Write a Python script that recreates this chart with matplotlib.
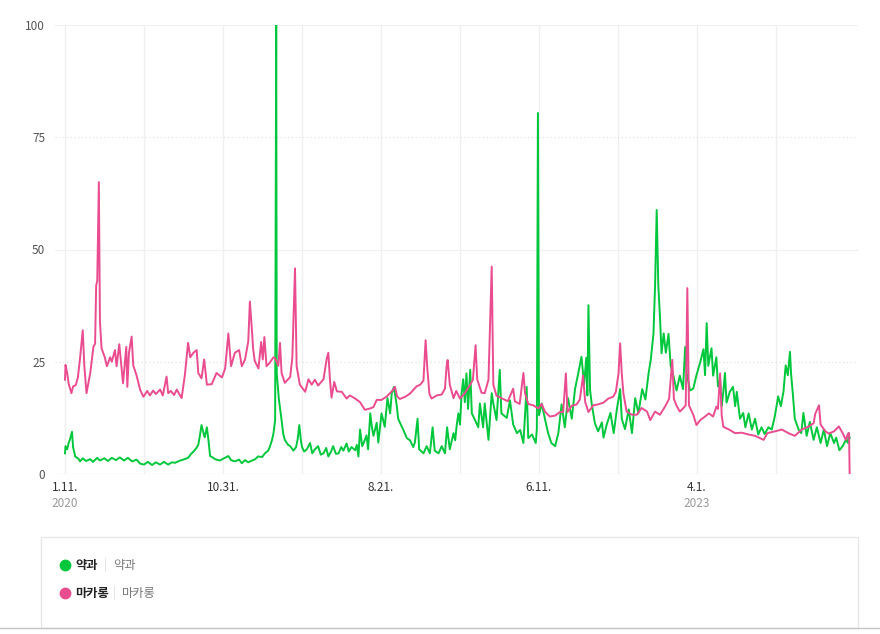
import matplotlib
matplotlib.use("Agg")
import matplotlib.pyplot as plt
import matplotlib.transforms as mtransforms
from matplotlib.patches import Rectangle
from matplotlib.lines import Line2D
import pandas as pd

plt.rcParams['font.family'] = ['Noto Sans CJK KR', 'DejaVu Sans']

start_date = "2020-01-11"
series_names = ["약과", "마카롱"]
series_colors = ["#00c73c", "#ea4c90"]

# 약과 (day offset from start_date, relative search index)
yak_day = [0, 1, 4, 7, 9, 13, 15, 19, 25, 28,
           33, 39, 47, 52, 60, 65, 73, 80, 87, 95,
           102, 110, 117, 125, 133, 140, 147, 154, 162, 169,
           177, 184, 192, 199, 205, 212, 220, 229, 234, 239,
           244, 248, 251, 254, 258, 260, 264, 267, 270, 276,
           279, 288, 296, 304, 309, 316, 324, 329, 335, 341,
           348, 354, 359, 367, 372, 378, 381, 385, 388, 391,
           393, 394, 398, 403, 406, 409, 415, 419, 425, 430,
           433, 436, 439, 441, 445, 450, 456, 460, 465, 471,
           476, 481, 486, 490, 495, 499, 504, 509, 514, 518,
           524, 528, 533, 540, 543, 546, 549, 553, 556, 561,
           564, 568, 571, 574, 580, 583, 589, 595, 600, 605,
           608, 612, 617, 620, 623, 630, 636, 642, 648, 651,
           656, 659, 667, 673, 679, 684, 688, 695, 701, 707,
           711, 716, 723, 726, 729, 732, 735, 738, 741, 744,
           747, 750, 754, 757, 763, 769, 772, 778, 781, 788,
           794, 797, 803, 809, 812, 822, 828, 834, 841, 847,
           853, 859, 862, 869, 876, 878, 880, 882, 887, 893,
           899, 905, 912, 918, 924, 930, 936, 943, 949, 955,
           961, 966, 970, 972, 974, 977, 980, 986, 992, 999,
           1002, 1008, 1015, 1021, 1027, 1033, 1036, 1042, 1049, 1055,
           1061, 1067, 1074, 1080, 1086, 1090, 1095, 1098, 1101, 1104,
           1107, 1110, 1114, 1118, 1123, 1127, 1132, 1138, 1144, 1150,
           1154, 1157, 1163, 1169, 1175, 1182, 1188, 1191, 1194, 1197,
           1203, 1206, 1212, 1215, 1219, 1222, 1225, 1228, 1231, 1237,
           1243, 1247, 1250, 1256, 1262, 1266, 1272, 1278, 1284, 1290,
           1296, 1302, 1309, 1315, 1320, 1324, 1327, 1332, 1337, 1341,
           1345, 1349, 1351, 1354, 1358, 1365, 1370, 1374, 1380, 1386,
           1393, 1399, 1406, 1412, 1418, 1424, 1431, 1435, 1441, 1447,
           1453, 1457, 1458, 1460]
yak_val = [4.6, 6.2, 5.5, 7.0, 7.6, 9.4, 6.0, 3.9, 3.4, 2.8,
           3.5, 2.9, 3.3, 2.7, 3.6, 3.0, 3.5, 2.9, 3.6, 3.1,
           3.7, 3.0, 3.6, 2.8, 3.2, 2.3, 2.1, 2.7, 2.0, 2.6,
           2.1, 2.7, 2.1, 2.6, 2.5, 2.9, 3.2, 3.6, 4.4, 5.0,
           5.7, 6.5, 8.5, 10.9, 9.0, 8.2, 10.4, 7.5, 4.0, 3.6,
           3.3, 3.0, 3.5, 4.0, 3.1, 2.8, 3.2, 2.4, 3.1, 2.6,
           3.0, 3.3, 3.9, 3.8, 4.6, 5.2, 6.0, 7.5, 9.1, 12.0,
           100.0, 22.4, 16.6, 12.0, 9.0, 7.6, 6.5, 6.2, 5.2, 6.0,
           7.8, 10.9, 7.4, 6.0, 5.0, 5.5, 6.9, 4.6, 5.5, 6.2,
           4.3, 4.6, 5.8, 3.9, 5.0, 6.2, 4.5, 4.6, 6.0, 5.2,
           6.8, 5.0, 6.0, 5.3, 6.5, 3.9, 9.9, 6.2, 7.0, 8.6,
           5.5, 13.5, 10.5, 8.5, 11.4, 7.0, 13.5, 10.5, 16.9, 13.5,
           18.0, 19.4, 15.5, 12.3, 11.5, 9.7, 8.0, 7.5, 6.0, 7.0,
           12.3, 5.5, 4.6, 6.2, 4.6, 10.4, 5.2, 4.6, 6.2, 4.6,
           10.4, 5.5, 9.1, 7.5, 11.0, 13.5, 11.0, 18.0, 21.1, 16.0,
           22.4, 14.5, 23.2, 13.5, 12.0, 10.4, 15.7, 10.4, 15.7, 7.6,
           18.0, 15.7, 12.0, 23.2, 13.5, 12.5, 16.4, 11.0, 9.1, 9.8,
           6.9, 19.4, 8.0, 8.8, 6.9, 10.0, 80.4, 13.1, 15.7, 12.3,
           9.1, 6.9, 6.2, 9.1, 15.5, 10.4, 16.9, 12.3, 18.9, 22.4,
           26.1, 20.0, 25.9, 17.5, 37.6, 18.7, 15.7, 11.3, 9.5, 11.5,
           8.1, 11.0, 13.6, 9.1, 14.5, 18.9, 12.3, 10.0, 14.4, 9.1,
           16.9, 13.5, 18.9, 16.6, 22.5, 25.5, 31.3, 42.0, 58.8, 42.0,
           35.3, 26.9, 31.3, 27.0, 31.2, 24.1, 21.9, 18.6, 21.9, 18.9,
           28.3, 22.4, 18.6, 19.0, 22.0, 24.9, 27.8, 22.0, 33.6, 24.1,
           28.0, 21.9, 26.0, 19.5, 21.0, 15.1, 18.3, 22.5, 15.9, 18.3,
           19.4, 15.1, 18.3, 12.3, 13.6, 10.4, 13.5, 9.9, 12.3, 8.8,
           10.4, 8.9, 10.4, 9.9, 12.4, 15.1, 17.3, 15.1, 18.4, 24.2,
           22.0, 27.2, 22.4, 18.3, 12.3, 9.9, 9.1, 13.6, 8.5, 11.6,
           7.6, 10.4, 6.9, 9.9, 6.2, 9.1, 6.9, 8.1, 5.3, 6.2,
           7.6, 6.9, 9.1, 8.0]

# 마카롱
mac_day = [0, 1, 4, 7, 12, 15, 20, 24, 28, 33,
           36, 40, 47, 53, 56, 58, 60, 63, 65, 68,
           71, 74, 78, 84, 87, 93, 96, 101, 106, 108,
           114, 116, 119, 124, 127, 133, 140, 146, 153, 158,
           164, 169, 177, 182, 189, 192, 197, 203, 208, 217,
           223, 229, 233, 239, 245, 248, 254, 259, 264, 273,
           282, 292, 298, 304, 309, 316, 324, 329, 335, 341,
           344, 347, 350, 353, 360, 365, 368, 371, 375, 381,
           388, 391, 397, 400, 403, 409, 419, 423, 428, 431,
           437, 447, 453, 459, 465, 471, 481, 487, 490, 493,
           496, 501, 506, 515, 524, 530, 540, 549, 558, 568,
           574, 580, 589, 599, 608, 614, 618, 623, 633, 642,
           648, 654, 661, 667, 671, 674, 678, 682, 692, 701,
           707, 710, 712, 716, 723, 728, 735, 744, 754, 759,
           764, 767, 775, 781, 788, 794, 797, 803, 812, 824,
           834, 837, 846, 853, 856, 862, 871, 881, 887, 893,
           902, 912, 921, 927, 932, 935, 943, 952, 958, 964,
           968, 974, 983, 992, 1002, 1011, 1020, 1025, 1030, 1033,
           1036, 1039, 1045, 1055, 1064, 1073, 1083, 1089, 1098, 1107,
           1116, 1124, 1130, 1133, 1138, 1144, 1150, 1155, 1158, 1161,
           1169, 1175, 1182, 1191, 1198, 1206, 1212, 1215, 1219, 1222,
           1225, 1234, 1247, 1259, 1272, 1284, 1300, 1307, 1321, 1334,
           1346, 1358, 1371, 1384, 1393, 1396, 1403, 1406, 1415, 1421,
           1431, 1440, 1447, 1453, 1457, 1459, 1460]
mac_val = [21.0, 24.3, 22.5, 20.0, 18.0, 19.5, 19.8, 21.5, 25.8, 32.0,
           24.0, 18.0, 22.5, 28.4, 29.0, 42.0, 43.0, 65.0, 34.0, 28.0,
           27.0, 26.0, 24.0, 26.0, 25.0, 27.6, 24.0, 28.9, 22.5, 20.2,
           28.3, 19.4, 27.0, 30.6, 24.2, 22.0, 18.7, 17.2, 18.5, 17.5,
           18.6, 17.8, 18.8, 17.5, 21.7, 18.0, 18.5, 17.6, 18.8, 16.9,
           22.0, 29.2, 26.0, 27.0, 27.6, 22.5, 21.3, 25.5, 19.9, 20.0,
           22.5, 21.5, 23.5, 31.3, 24.0, 27.0, 27.6, 24.0, 25.5, 29.5,
           38.4, 33.5, 28.0, 25.2, 23.5, 29.4, 25.5, 30.5, 24.0, 24.8,
           26.0, 25.8, 24.1, 29.2, 22.5, 20.3, 21.6, 25.9, 45.8, 24.0,
           19.9, 18.3, 21.1, 19.9, 21.0, 19.7, 21.1, 25.7, 27.0, 21.0,
           17.0, 20.5, 18.4, 18.3, 16.8, 17.5, 16.8, 16.0, 14.3, 14.6,
           14.9, 16.5, 16.5, 17.3, 18.4, 19.4, 17.3, 16.7, 17.2, 17.9,
           18.7, 19.5, 19.9, 20.8, 29.8, 23.8, 17.9, 16.8, 17.5, 17.7,
           19.0, 24.0, 25.4, 19.9, 16.9, 18.5, 16.8, 18.0, 19.9, 21.0,
           28.7, 21.1, 18.1, 18.0, 21.0, 46.2, 19.9, 17.4, 16.9, 16.2,
           19.0, 16.2, 15.6, 22.5, 18.0, 15.6, 15.3, 14.6, 15.6, 13.9,
           12.8, 13.0, 13.8, 13.8, 22.4, 13.8, 15.2, 15.5, 16.6, 21.9,
           16.0, 13.8, 15.3, 15.5, 15.9, 16.8, 17.2, 18.3, 22.4, 29.1,
           22.4, 18.0, 13.9, 13.2, 13.2, 14.7, 13.9, 12.0, 13.9, 13.2,
           14.9, 16.7, 25.4, 16.7, 15.2, 13.9, 14.6, 15.3, 41.4, 15.3,
           13.2, 10.9, 12.0, 12.8, 13.5, 12.8, 15.0, 14.5, 22.4, 13.0,
           10.5, 10.0, 9.1, 9.2, 8.8, 8.5, 7.6, 9.1, 9.5, 9.9,
           9.1, 8.5, 9.9, 10.6, 11.3, 13.4, 15.3, 11.0, 9.5, 9.0,
           9.5, 10.6, 9.1, 7.6, 9.0, 9.1, 0.0]

# x grid every 147 days, labels every other grid line
grid_step_days = 147
n_grid = 10
tick_labels = ["1.11.", "", "10.31.", "", "8.21.", "", "6.11.", "", "4.1.", ""]
year_labels = ["2020", "", "", "", "", "", "", "", "2023", ""]
y_ticks = [0, 25, 50, 75, 100]

W, H = 880, 634
fig = plt.figure(figsize=(W / 100, H / 100), dpi=100)
fig.patch.set_facecolor("white")

ax_left, ax_right, ax_top, ax_bottom = 55, 858, 25, 474
ax = fig.add_axes([ax_left / W, 1 - ax_bottom / H, (ax_right - ax_left) / W, (ax_bottom - ax_top) / H])

t0 = pd.Timestamp(start_date)
yak_dates = t0 + pd.to_timedelta(yak_day, unit="D")
mac_dates = t0 + pd.to_timedelta(mac_day, unit="D")
grid_dates = pd.date_range(t0, periods=n_grid, freq=f"{grid_step_days}D")

days_per_px = 294 / 158.0
ax.set_xlim(t0 - pd.Timedelta(days=(65 - ax_left) * days_per_px),
            t0 + pd.Timedelta(days=(ax_right - 65) * days_per_px))
ax.set_ylim(0, 100)

# grid
for gd in grid_dates:
    ax.axvline(gd, color="#efefef", lw=0.9, zorder=0)
for yv in y_ticks:
    if yv == 0:
        ax.axhline(yv, color="#e6e6e6", lw=0.9, zorder=0)
    elif yv in (25, 75):
        ax.axhline(yv, color="#e2e2e2", lw=0.9, ls=(0, (1, 2)), zorder=0)
    else:
        ax.axhline(yv, color="#f0f0f0", lw=0.9, zorder=0)

ax.plot(yak_dates, yak_val, color=series_colors[0], lw=1.4, zorder=3, solid_joinstyle="round")
ax.plot(mac_dates, mac_val, color=series_colors[1], lw=1.4, zorder=4, solid_joinstyle="round")

for s in ax.spines.values():
    s.set_visible(False)

ax.set_yticks(y_ticks)
ax.set_yticklabels([str(v) for v in y_ticks])
ax.set_xticks(grid_dates)
ax.set_xticklabels(tick_labels)
ax.tick_params(axis="both", length=0)
ax.tick_params(axis="y", pad=7, labelsize=8.5, labelcolor="#555555")
ax.tick_params(axis="x", pad=5, labelsize=8.5, labelcolor="#333333")

trans = mtransforms.blended_transform_factory(ax.transData, ax.transAxes)
for gd, yl in zip(grid_dates, year_labels):
    if yl:
        ax.text(gd, -0.065, yl, transform=trans, ha="center", va="center",
                fontsize=8.5, color="#999999")

# legend box
fig.patches.append(Rectangle((41 / W, 1 - 628 / H), (858 - 41) / W, (628 - 537) / H,
                             transform=fig.transFigure, facecolor="white",
                             edgecolor="#e6e6e6", lw=0.9))
fig.add_artist(Line2D([0, 1], [1 - 628 / H, 1 - 628 / H], transform=fig.transFigure,
                      color="#c4c4c4", lw=1.0))

legend_rows_y = [565, 593]
sep_x = [105, 114]
for name, color, ry, sx in zip(series_names, series_colors, legend_rows_y, sep_x):
    fy = 1 - ry / H
    fig.add_artist(Line2D([65 / W], [fy], transform=fig.transFigure, marker="o",
                          markersize=7.5, color=color, linestyle="none"))
    fig.text(75 / W, fy, name, fontsize=8.8, fontweight="bold", color="#222222",
             ha="left", va="center")
    fig.text(sx / W, fy, "|", fontsize=8.5, color="#dddddd", ha="center", va="center")
    fig.text((sx + 8) / W, fy, name, fontsize=8.8, color="#777777", ha="left", va="center")

fig.savefig("out.png", dpi=100, facecolor="white")
